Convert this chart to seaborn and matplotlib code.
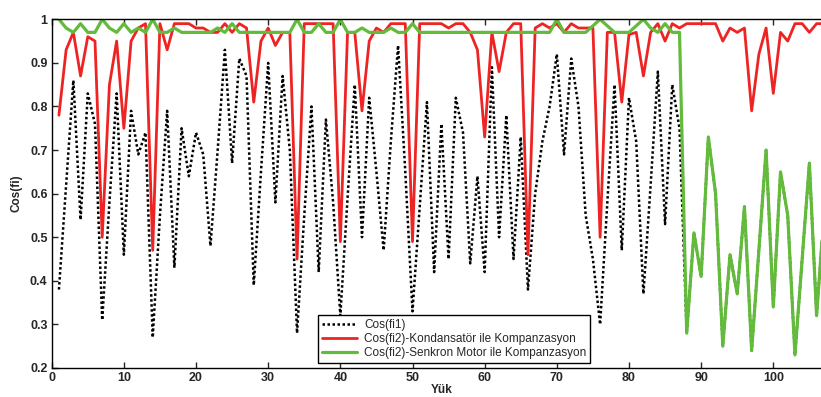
import numpy as np
import pandas as pd
import matplotlib
matplotlib.use("Agg")
import matplotlib.pyplot as plt
import seaborn as sns

# ---- data ----
yuk = list(range(1, 108))

cos_fi1 = [0.38, 0.62, 0.86, 0.54, 0.83, 0.76, 0.31, 0.58, 0.83, 0.46,
           0.79, 0.69, 0.74, 0.27, 0.55, 0.79, 0.43, 0.75, 0.64, 0.74,
           0.69, 0.48, 0.70, 0.93, 0.67, 0.91, 0.87, 0.39, 0.65, 0.90,
           0.58, 0.87, 0.70, 0.28, 0.55, 0.80, 0.42, 0.77, 0.58, 0.32,
           0.59, 0.85, 0.50, 0.82, 0.65, 0.47, 0.72, 0.94, 0.65, 0.33,
           0.57, 0.81, 0.42, 0.76, 0.45, 0.82, 0.74, 0.44, 0.64, 0.42,
           0.89, 0.50, 0.78, 0.45, 0.73, 0.38, 0.60, 0.72, 0.80, 0.92,
           0.69, 0.91, 0.80, 0.55, 0.45, 0.30, 0.58, 0.85, 0.47, 0.82,
           0.72, 0.37, 0.62, 0.88, 0.53, 0.85, 0.75,
           0.28, 0.51, 0.41, 0.73, 0.60, 0.25, 0.46, 0.37, 0.57, 0.24,
           0.47, 0.70, 0.34, 0.65, 0.55, 0.23, 0.45, 0.67, 0.32, 0.55]

cos_fi2_kondansator = [0.78, 0.93, 0.97, 0.87, 0.96, 0.95, 0.50, 0.85, 0.95, 0.75,
                       0.95, 0.98, 0.99, 0.47, 0.99, 0.93, 0.99, 0.99, 0.99, 0.98,
                       0.98, 0.97, 0.97, 0.99, 0.97, 0.99, 0.98, 0.81, 0.95, 0.98,
                       0.94, 0.97, 0.97, 0.45, 0.99, 0.99, 0.99, 0.99, 0.99, 0.49,
                       0.97, 0.97, 0.79, 0.95, 0.98, 0.97, 0.99, 0.99, 0.99, 0.49,
                       0.99, 0.99, 0.99, 0.99, 0.98, 0.99, 0.99, 0.97, 0.93, 0.73,
                       0.97, 0.88, 0.97, 0.99, 0.99, 0.46, 0.98, 0.99, 0.98, 0.99,
                       0.97, 0.99, 0.98, 0.98, 0.98, 0.50, 0.97, 0.97, 0.81, 0.965,
                       0.97, 0.87, 0.97, 0.99, 0.95, 0.99, 0.98, 0.99, 0.99, 0.99,
                       0.99, 0.99, 0.95, 0.98, 0.97, 0.98, 0.79, 0.92, 0.98, 0.83,
                       0.97, 0.95, 0.99, 0.99, 0.97, 0.99, 0.99]

cos_fi2_senkron = [1.00, 0.98, 0.97, 0.99, 0.97, 0.97, 1.00, 0.98, 0.97, 0.99,
                   0.97, 0.98, 0.97, 1.00, 0.97, 0.97, 0.98, 0.97, 0.97, 0.97,
                   0.97, 0.97, 0.98, 0.97, 0.99, 0.97, 0.97, 0.97, 0.97, 0.97,
                   0.97, 0.97, 0.97, 1.00, 0.97, 0.97, 0.99, 0.97, 0.97, 1.00,
                   0.97, 0.97, 0.98, 0.97, 0.97, 0.97, 0.98, 0.97, 0.97, 0.99,
                   0.97, 0.97, 0.97, 0.97, 0.97, 0.97, 0.97, 0.97, 0.97, 0.97,
                   0.97, 0.97, 0.97, 0.97, 0.97, 0.97, 0.97, 0.97, 0.97, 1.00,
                   0.97, 0.97, 0.97, 0.97, 0.985, 1.00, 0.985, 0.97, 0.97, 0.97,
                   0.985, 1.00, 0.98, 0.97, 0.99, 0.97, 0.97,
                   0.28, 0.51, 0.41, 0.73, 0.60, 0.25, 0.46, 0.37, 0.57, 0.24,
                   0.47, 0.70, 0.34, 0.65, 0.55, 0.23, 0.45, 0.67, 0.32, 0.55]

labels = ["Cos(fi1)",
          "Cos(fi2)-Kondansatör ile Kompanzasyon",
          "Cos(fi2)-Senkron Motor ile Kompanzasyon"]
x_ticks = [0, 10, 20, 30, 40, 50, 60, 70, 80, 90, 100]
y_ticks = [0.2, 0.3, 0.4, 0.5, 0.6, 0.7, 0.8, 0.9, 1.0]
y_ticklabels = ["0.2", "0.3", "0.4", "0.5", "0.6", "0.7", "0.8", "0.9", "1"]

df = pd.DataFrame({"Yük": yuk, "fi1": cos_fi1,
                   "kond": cos_fi2_kondansator, "senk": cos_fi2_senkron})

sns.set_style("ticks")
plt.rcParams["font.family"] = ["Liberation Sans", "DejaVu Sans"]

W, H = 821, 397
fig = plt.figure(figsize=(W / 100, H / 100), dpi=100)
px_per_unit = 7.216
x_max = 108
ax = fig.add_axes([51.7 / W, (H - 368) / H, x_max * px_per_unit / W, (368 - 19.3) / H])

sns.lineplot(data=df, x="Yük", y="fi1", ax=ax, color="black",
             linestyle=(0, (1, 1)), linewidth=1.8, label=labels[0])
sns.lineplot(data=df, x="Yük", y="kond", ax=ax, color="#ee2424",
             linewidth=2.0, label=labels[1])
sns.lineplot(data=df, x="Yük", y="senk", ax=ax, color="#62bb3a",
             linewidth=2.3, label=labels[2])

ax.set_xlim(0, x_max)
ax.set_ylim(0.2, 1.0)
ax.set_xticks(x_ticks)
ax.set_yticks(y_ticks)
ax.set_yticklabels(y_ticklabels)
ax.tick_params(direction="in", top=True, right=True, length=4, width=1,
               labelsize=9, pad=3)
for lab in ax.get_xticklabels() + ax.get_yticklabels():
    lab.set_fontweight("bold")
for sp in ax.spines.values():
    sp.set_color("black")
    sp.set_linewidth(1.0)

ax.set_ylabel("Cos(fi)", fontsize=8.5, fontweight="bold", labelpad=5)
ax.set_xlabel("Yük", fontsize=8.5, fontweight="bold", labelpad=0)

leg = ax.legend(loc="lower left",
                bbox_to_anchor=((318 - 51.7) / (x_max * px_per_unit), (368 - 363) / (368 - 19.3)),
                borderaxespad=0, frameon=True, fancybox=False, framealpha=1,
                edgecolor="black", fontsize=8.5, handlelength=3.0,
                borderpad=0.3, labelspacing=0.2, handletextpad=0.6)
leg.get_frame().set_linewidth(1.0)

fig.savefig("out.png", dpi=100)
